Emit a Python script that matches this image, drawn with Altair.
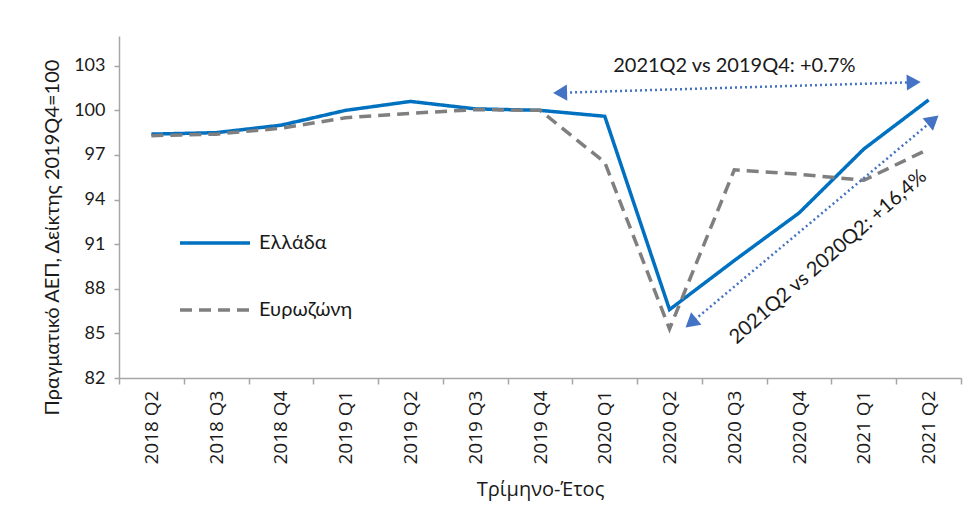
import altair as alt
import pandas as pd

quarters = ["2018 Q2", "2018 Q3", "2018 Q4", "2019 Q1", "2019 Q2", "2019 Q3", "2019 Q4",
            "2020 Q1", "2020 Q2", "2020 Q3", "2020 Q4", "2021 Q1", "2021 Q2"]
greece = [98.4, 98.5, 99.0, 100.0, 100.6, 100.1, 100.0, 99.6, 86.6, 89.9, 93.1, 97.4, 100.7]
eurozone = [98.3, 98.4, 98.8, 99.5, 99.8, 100.05, 100.0, 96.5, 85.3, 96.0, 95.7, 95.3, 97.4]
series_names = ["Ελλάδα", "Ευρωζώνη"]

# annotation arrows (in data units: quarter index, index value)
arrow_id = ["top", "top", "diag", "diag"]
arrow_x = [6.31, 11.77, 8.33, 12.07]
arrow_y = [101.18, 101.89, 85.70, 99.35]
arrow_angle = [268.3, 88.3, 230, 50]

note_text = ["2021Q2 vs 2019Q4: +0.7%", "2021Q2 vs 2020Q2: +16,4%"]
note_x = [9.0, 10.45]
note_y = [102.98, 90.14]
note_angle = [0, 319]

rows = []
for i, q in enumerate(quarters):
    rows.append({"idx": i, "q": q, "series": series_names[0], "value": greece[i]})
    rows.append({"idx": i, "q": q, "series": series_names[1], "value": eurozone[i]})
df = pd.DataFrame(rows)

arrows = pd.DataFrame({"id": arrow_id, "x": arrow_x, "y": arrow_y, "angle": arrow_angle})
notes = pd.DataFrame({"text": note_text, "x": note_x, "y": note_y, "angle": note_angle})

label_array = "[" + ",".join('"%s"' % q for q in quarters) + "]"
tick_values = [i - 0.5 for i in range(len(quarters) + 1)]

xscale = alt.Scale(domain=[-0.5, len(quarters) - 0.5], nice=False, zero=False)
yscale = alt.Scale(domain=[82, 105], nice=False, zero=False)

AX_GRAY = "#a6a6a6"

x_axis = alt.Axis(
    values=tick_values,
    labelExpr=label_array + "[round(datum.value + 0.5)] || ''",
    labelOffset=32.4,
    labelAngle=-90,
    labelFlush=False,
    labelOverlap=False,
    labelFont="Open Sans",
    labelFontSize=19,
    labelColor="#1a1a1a",
    labelPadding=6,
    tickSize=6,
    tickColor=AX_GRAY,
    domainColor=AX_GRAY,
    domainWidth=1.5,
    tickWidth=1.5,
    grid=False,
    title="Τρίμηνο-Έτος",
    titleFont="Open Sans",
    titleFontSize=20,
    titleFontWeight="normal",
    titleColor="#1a1a1a",
    titleY=111,
    titleBaseline="middle",
)

y_axis = alt.Axis(
    values=[82, 85, 88, 91, 94, 97, 100, 103],
    grid=False,
    tickSize=5,
    tickColor=AX_GRAY,
    tickWidth=1.5,
    domainColor=AX_GRAY,
    domainWidth=1.5,
    labelFont="Lato",
    labelFontSize=18,
    labelColor="#1a1a1a",
    labelPadding=9,
    title="Πραγματικό ΑΕΠ, Δείκτης 2019Q4=100",
    titleFont="Lato",
    titleFontSize=20,
    titleFontWeight="normal",
    titleColor="#1a1a1a",
    titleX=-67,
    titleY=201,
    titleAlign="center",
    titleBaseline="middle",
)

legend = alt.Legend(
    title=None,
    orient="none",
    legendX=59,
    legendY=170,
    symbolType="stroke",
    symbolSize=4900,
    symbolStrokeWidth=3.5,
    labelFont="Lato",
    labelFontSize=20,
    labelColor="#1a1a1a",
    labelOffset=7,
    rowPadding=20,
    padding=0,
)

lines = alt.Chart(df).mark_line(strokeWidth=3.5).encode(
    x=alt.X("idx:Q", scale=xscale, axis=x_axis),
    y=alt.Y("value:Q", scale=yscale, axis=y_axis),
    color=alt.Color(
        "series:N",
        scale=alt.Scale(domain=series_names, range=["#0070C0", "#7f7f7f"]),
        legend=legend,
    ),
    strokeDash=alt.StrokeDash(
        "series:N",
        scale=alt.Scale(domain=series_names, range=[[1, 0], [12, 7]]),
        legend=legend,
    ),
)

arrow_lines = alt.Chart(arrows).mark_line(
    color="#4472C4", strokeWidth=2.5, strokeDash=[2, 3]
).encode(
    x=alt.X("x:Q", scale=xscale),
    y=alt.Y("y:Q", scale=yscale),
    detail="id:N",
)

arrow_heads = alt.Chart(arrows).mark_point(
    shape="triangle-up", filled=True, color="#4472C4", opacity=1, size=260
).encode(
    x=alt.X("x:Q", scale=xscale),
    y=alt.Y("y:Q", scale=yscale),
    angle=alt.Angle("angle:Q", scale=None),
)

note_marks = alt.Chart(notes).mark_text(
    font="Lato", fontSize=20, color="#1a1a1a", align="center", baseline="middle"
).encode(
    x=alt.X("x:Q", scale=xscale),
    y=alt.Y("y:Q", scale=yscale),
    text="text:N",
    angle=alt.Angle("angle:Q", scale=None),
)

chart = alt.layer(lines, arrow_lines, arrow_heads, note_marks).properties(
    width=842,
    height=342,
    padding={"left": 111, "top": 28, "right": 6, "bottom": 138},
    autosize=alt.AutoSizeParams(type="none"),
    background="white",
).configure_view(stroke=None)

chart.save("out.html", embed_options={"renderer": "svg", "actions": False})
